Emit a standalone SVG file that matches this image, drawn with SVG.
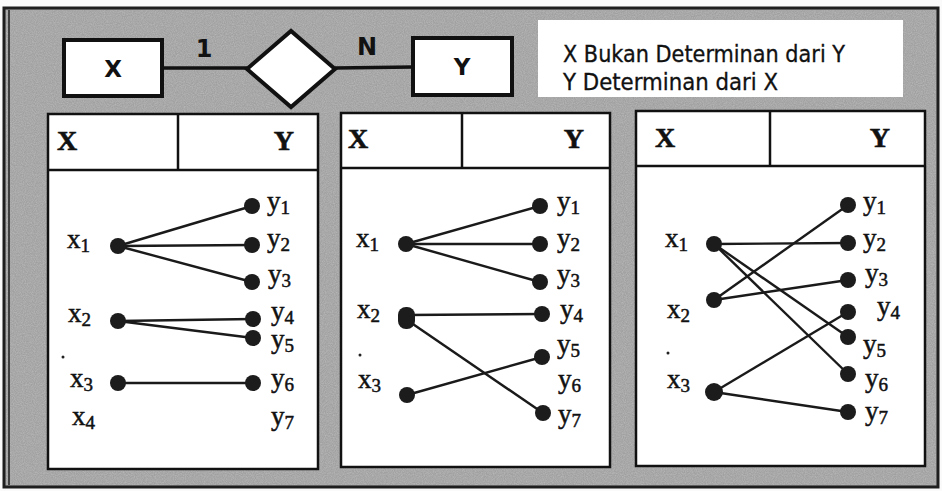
<svg xmlns="http://www.w3.org/2000/svg" width="942" height="491" viewBox="0 0 942 491">
<defs>
<filter id="grain" x="0" y="0" width="100%" height="100%">
<feTurbulence type="fractalNoise" baseFrequency="0.9" numOctaves="2" seed="3" result="n"/>
<feColorMatrix in="n" type="matrix" values="0 0 0 0 0.55  0 0 0 0 0.55  0 0 0 0 0.55  0 0 0 -1.6 1.2" result="g"/>
<feComposite in="g" in2="SourceGraphic" operator="in"/>
</filter>
</defs>
<style>
.frame{fill:#a0a0a0;stroke:#1e1e1e;stroke-width:3}
.er{fill:#fff;stroke:#111;stroke-width:4}
.erline{stroke:#111;stroke-width:3.5;fill:none}
.ertext{font-family:"DejaVu Sans",sans-serif;font-weight:bold;font-size:23px;fill:#111;text-anchor:middle}
.card{font-family:"DejaVu Sans",sans-serif;font-weight:bold;font-size:24px;fill:#111;text-anchor:middle}
.note{font-family:"DejaVu Sans Condensed","DejaVu Sans",sans-serif;font-size:23px;fill:#111;stroke:#111;stroke-width:0.3}
.panel{fill:#fff;stroke:#111;stroke-width:2.5}
.hdr{font-family:"Liberation Serif",serif;font-weight:bold;font-size:28px;fill:#111;stroke:#111;stroke-width:0.6}
.lbl{font-family:"Liberation Serif",serif;font-size:27px;fill:#111;stroke:#111;stroke-width:0.5}
.sub{font-size:19px}
.dot{fill:#1c1c1c}
.edge{stroke:#1a1a1a;stroke-width:2.4;fill:none}
</style>
<rect x="0" y="0" width="942" height="491" fill="#fafafa"/>
<rect class="frame" x="4" y="8" width="934" height="479"/>
<rect x="6" y="10" width="930" height="475" fill="#000" filter="url(#grain)" opacity="0.6"/>
<line x1="9" y1="10" x2="9" y2="485" stroke="#1e1e1e" stroke-width="1.5"/>

<g id="er-diagram">
<g id="conn-er">
<line class="erline" x1="162" y1="68" x2="247" y2="68"/>
<line class="erline" x1="335" y1="68" x2="413" y2="67"/>
</g>
<g id="entity-x">
<rect class="er" x="64" y="40" width="98" height="56"/>
<text class="ertext" x="113" y="77">X</text>
</g>
<g id="relationship">
<polygon class="er" points="247,69 291,31 335,69 291,107"/>
</g>
<g id="entity-y">
<rect class="er" x="413" y="38" width="99" height="57"/>
<text class="ertext" x="462" y="75">Y</text>
</g>
<text class="card" x="204" y="57">1</text>
<text class="card" x="367" y="55">N</text>
</g>

<g id="note">
<rect x="538" y="20" width="365" height="77" fill="#fff"/>
<text class="note" x="563" y="62" textLength="282" lengthAdjust="spacingAndGlyphs">X Bukan Determinan dari Y</text>
<text class="note" x="563" y="90" textLength="215" lengthAdjust="spacingAndGlyphs">Y Determinan dari X</text>
</g>

<!-- Panel 1 -->
<g id="panel1">
<rect class="panel" x="48" y="114" width="270" height="355"/>
<line class="panel" x1="48" y1="170" x2="318" y2="170"/>
<line class="panel" x1="178" y1="114" x2="178" y2="170"/>
<text class="hdr" x="57" y="150">X</text>
<text class="hdr" x="294" y="150" text-anchor="end">Y</text>
<g id="p1-edges">
<line class="edge" x1="118" y1="246" x2="252" y2="206"/>
<line class="edge" x1="118" y1="246" x2="252" y2="245"/>
<line class="edge" x1="118" y1="246" x2="252" y2="282"/>
<line class="edge" x1="118" y1="321" x2="253" y2="319"/>
<line class="edge" x1="118" y1="321" x2="253" y2="338"/>
<line class="edge" x1="118" y1="383" x2="253" y2="383"/>
</g>
<g id="p1-x">
<circle class="dot" cx="118" cy="246" r="8"/>
<circle class="dot" cx="118" cy="321" r="8"/>
<circle class="dot" cx="118" cy="383" r="8"/>
<text class="lbl" x="67" y="248">x<tspan class="sub" dy="4">1</tspan></text>
<text class="lbl" x="68" y="322">x<tspan class="sub" dy="4">2</tspan></text>
<circle cx="63" cy="357" r="1.5" fill="#222"/>
<text class="lbl" x="70" y="387">x<tspan class="sub" dy="4">3</tspan></text>
<text class="lbl" x="72" y="425">x<tspan class="sub" dy="4">4</tspan></text>
</g>
<g id="p1-y">
<circle class="dot" cx="252" cy="206" r="8"/>
<circle class="dot" cx="252" cy="245" r="8"/>
<circle class="dot" cx="252" cy="282" r="8"/>
<circle class="dot" cx="253" cy="319" r="8"/>
<circle class="dot" cx="253" cy="338" r="8"/>
<circle class="dot" cx="253" cy="383" r="8"/>
<text class="lbl" x="267" y="210">y<tspan class="sub" dy="4">1</tspan></text>
<text class="lbl" x="267" y="247">y<tspan class="sub" dy="4">2</tspan></text>
<text class="lbl" x="268" y="283">y<tspan class="sub" dy="4">3</tspan></text>
<text class="lbl" x="271" y="320">y<tspan class="sub" dy="4">4</tspan></text>
<text class="lbl" x="271" y="348">y<tspan class="sub" dy="4">5</tspan></text>
<text class="lbl" x="271" y="387">y<tspan class="sub" dy="4">6</tspan></text>
<text class="lbl" x="271" y="425">y<tspan class="sub" dy="4">7</tspan></text>
</g>
</g>

<!-- Panel 2 -->
<g id="panel2">
<rect class="panel" x="341" y="113" width="269" height="354"/>
<line class="panel" x1="341" y1="168" x2="610" y2="168"/>
<line class="panel" x1="462" y1="113" x2="462" y2="168"/>
<text class="hdr" x="348" y="148">X</text>
<text class="hdr" x="584" y="148" text-anchor="end">Y</text>
<g id="p2-edges">
<line class="edge" x1="406" y1="244" x2="540" y2="206"/>
<line class="edge" x1="406" y1="244" x2="540" y2="244"/>
<line class="edge" x1="406" y1="244" x2="540" y2="282"/>
<line class="edge" x1="407" y1="315" x2="542" y2="314"/>
<line class="edge" x1="407" y1="320" x2="543" y2="413"/>
<line class="edge" x1="407" y1="395" x2="542" y2="357"/>
</g>
<g id="p2-x">
<circle class="dot" cx="406" cy="244" r="8"/>
<rect class="dot" x="398" y="307" width="17" height="22" rx="8"/>
<circle class="dot" cx="407" cy="395" r="8"/>
<text class="lbl" x="356" y="247">x<tspan class="sub" dy="4">1</tspan></text>
<text class="lbl" x="357" y="318">x<tspan class="sub" dy="4">2</tspan></text>
<circle cx="360" cy="355" r="1.5" fill="#222"/>
<text class="lbl" x="358" y="388">x<tspan class="sub" dy="4">3</tspan></text>
</g>
<g id="p2-y">
<circle class="dot" cx="540" cy="206" r="8"/>
<circle class="dot" cx="540" cy="244" r="8"/>
<circle class="dot" cx="540" cy="282" r="8"/>
<circle class="dot" cx="542" cy="314" r="8"/>
<circle class="dot" cx="542" cy="357" r="8"/>
<circle class="dot" cx="543" cy="413" r="8"/>
<text class="lbl" x="557" y="210">y<tspan class="sub" dy="4">1</tspan></text>
<text class="lbl" x="557" y="247">y<tspan class="sub" dy="4">2</tspan></text>
<text class="lbl" x="557" y="283">y<tspan class="sub" dy="4">3</tspan></text>
<text class="lbl" x="560" y="318">y<tspan class="sub" dy="4">4</tspan></text>
<text class="lbl" x="557" y="353">y<tspan class="sub" dy="4">5</tspan></text>
<text class="lbl" x="558" y="388">y<tspan class="sub" dy="4">6</tspan></text>
<text class="lbl" x="558" y="423">y<tspan class="sub" dy="4">7</tspan></text>
</g>
</g>

<!-- Panel 3 -->
<g id="panel3">
<rect class="panel" x="636" y="111" width="289" height="355"/>
<line class="panel" x1="636" y1="166" x2="925" y2="166"/>
<line class="panel" x1="770" y1="111" x2="770" y2="166"/>
<text class="hdr" x="655" y="147">X</text>
<text class="hdr" x="890" y="147" text-anchor="end">Y</text>
<g id="p3-edges">
<line class="edge" x1="714" y1="244" x2="848" y2="243"/>
<line class="edge" x1="714" y1="244" x2="848" y2="337"/>
<line class="edge" x1="714" y1="244" x2="848" y2="374"/>
<line class="edge" x1="714" y1="300" x2="848" y2="205"/>
<line class="edge" x1="714" y1="300" x2="848" y2="280"/>
<line class="edge" x1="714" y1="392" x2="848" y2="312"/>
<line class="edge" x1="714" y1="392" x2="848" y2="412"/>
</g>
<g id="p3-x">
<circle class="dot" cx="714" cy="244" r="8"/>
<circle class="dot" cx="714" cy="300" r="8"/>
<circle class="dot" cx="714" cy="392" r="9"/>
<text class="lbl" x="665" y="247">x<tspan class="sub" dy="4">1</tspan></text>
<text class="lbl" x="667" y="318">x<tspan class="sub" dy="4">2</tspan></text>
<circle cx="668" cy="353" r="1.5" fill="#222"/>
<text class="lbl" x="667" y="388">x<tspan class="sub" dy="4">3</tspan></text>
</g>
<g id="p3-y">
<circle class="dot" cx="848" cy="205" r="8"/>
<circle class="dot" cx="848" cy="243" r="8"/>
<circle class="dot" cx="848" cy="280" r="8"/>
<circle class="dot" cx="848" cy="312" r="8"/>
<circle class="dot" cx="848" cy="337" r="8"/>
<circle class="dot" cx="848" cy="374" r="8"/>
<circle class="dot" cx="848" cy="412" r="8"/>
<text class="lbl" x="863" y="210">y<tspan class="sub" dy="4">1</tspan></text>
<text class="lbl" x="863" y="247">y<tspan class="sub" dy="4">2</tspan></text>
<text class="lbl" x="865" y="282">y<tspan class="sub" dy="4">3</tspan></text>
<text class="lbl" x="877" y="315">y<tspan class="sub" dy="4">4</tspan></text>
<text class="lbl" x="863" y="353">y<tspan class="sub" dy="4">5</tspan></text>
<text class="lbl" x="865" y="387">y<tspan class="sub" dy="4">6</tspan></text>
<text class="lbl" x="865" y="420">y<tspan class="sub" dy="4">7</tspan></text>
</g>
</g>
</svg>
